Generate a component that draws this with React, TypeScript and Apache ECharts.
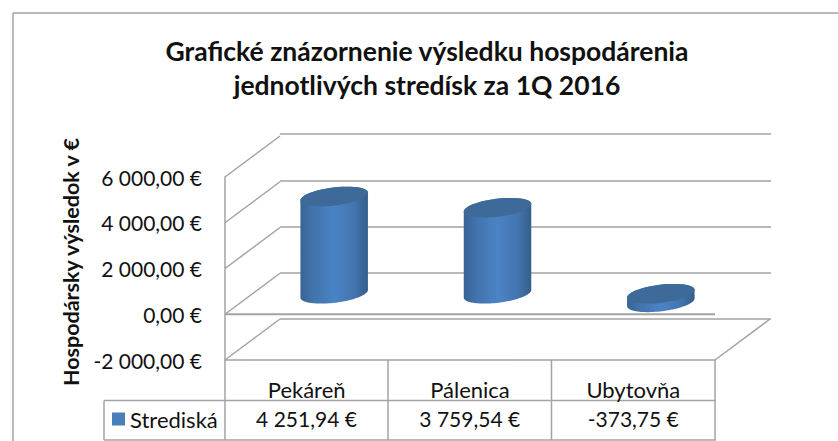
import React, { useEffect, useRef } from "react";
import * as echarts from "echarts";

const categories = ["Pekáreň", "Pálenica", "Ubytovňa"];
const seriesName = "Strediská";
const values = [4251.94, 3759.54, -373.75];
const valueLabels = ["4 251,94 €", "3 759,54 €", "-373,75 €"];
const yTicks = [-2000, 0, 2000, 4000, 6000];
const yTickLabels: Record<string, string> = {
  "-2000": "-2 000,00 €",
  "0": "0,00 €",
  "2000": "2 000,00 €",
  "4000": "4 000,00 €",
  "6000": "6 000,00 €",
};
const titleLines = ["Grafické znázornenie výsledku hospodárenia", "jednotlivých stredísk za 1Q 2016"];
const yTitle = "Hospodársky výsledok v €";

const FONT = "Lato";
const GREY = "#a3a3a3";
const DEPTH_X = 55;
const DEPTH_Y = -41;
const RX = 34;
const RY = 9;
const TILT = (-7 * Math.PI) / 180;

function ellipsePoints(cx: number, cy: number, from: number, to: number) {
  const pts: number[][] = [];
  const n = 48;
  for (let i = 0; i <= n; i++) {
    const t = from + ((to - from) * i) / n;
    const ex = RX * Math.cos(t);
    const ey = RY * Math.sin(t);
    pts.push([cx + ex * Math.cos(TILT) - ey * Math.sin(TILT), cy + ex * Math.sin(TILT) + ey * Math.cos(TILT)]);
  }
  return pts;
}

const greyLine = { stroke: GREY, lineWidth: 1.5 };

export default function App() {
  const ref = useRef<HTMLDivElement>(null);
  useEffect(() => {
    const chart = echarts.init(ref.current!, undefined, { renderer: "svg" });
    const line = (x1: number, y1: number, x2: number, y2: number) => ({
      type: "line",
      silent: true,
      shape: { x1, y1, x2, y2 },
      style: { stroke: GREY, lineWidth: 1.5 },
    });
    const cols = [225, 388, 551.5, 715];
    chart.setOption({
      animation: false,
      backgroundColor: "#fff",
      title: titleLines.map((text, i) => ({
        text,
        left: 422,
        top: 32 + i * 34,
        textAlign: "center",
        textStyle: { fontFamily: FONT, fontSize: 26.5, fontWeight: "bold", color: "#111" },
      })),
      legend: {
        data: [seriesName],
        left: 107,
        top: 403,
        itemWidth: 13,
        itemHeight: 13,
        itemGap: 5,
        icon: "rect",
        selectedMode: false,
        textStyle: { fontFamily: FONT, fontSize: 22, color: "#111", padding: [0, 0, 3, 0] },
      },
      grid: [
        { left: 225, top: 177, width: 490, height: 183 },
        { left: 280, top: 134, width: 491, height: 185 },
      ],
      xAxis: [
        {
          type: "category",
          gridIndex: 0,
          data: categories,
          position: "bottom",
          axisLine: { onZero: false, lineStyle: { color: GREY, width: 1.5 } },
          axisTick: { show: false },
          axisLabel: { margin: 18, fontFamily: FONT, fontSize: 22, color: "#111" },
        },
        { type: "category", gridIndex: 1, data: categories, show: false },
      ],
      yAxis: [
        {
          type: "value",
          gridIndex: 0,
          min: -2000,
          max: 6000,
          interval: 2000,
          splitLine: { show: false },
          axisTick: { show: false },
          axisLine: { show: true, lineStyle: { color: GREY, width: 1.5 } },
          axisLabel: {
            margin: 23,
            fontFamily: FONT,
            fontSize: 21,
            color: "#111",
            formatter: (v: number) => yTickLabels[String(v)],
          },
        },
        {
          type: "value",
          gridIndex: 1,
          min: -2000,
          max: 6000,
          interval: 2000,
          axisLine: { show: false },
          axisTick: { show: false },
          axisLabel: { show: false },
          splitLine: { show: true, lineStyle: { color: GREY, width: 1.5 } },
        },
      ],
      series: [
        {
          type: "custom",
          name: "walls",
          xAxisIndex: 0,
          yAxisIndex: 0,
          silent: true,
          data: yTicks.map((v) => [0, v]),
          z: 1,
          renderItem: (params: any, api: any) => {
            const v = api.value(1);
            const cs = params.coordSys;
            const y = api.coord([0, v])[1];
            const children: any[] = [
              { type: "line", shape: { x1: cs.x, y1: y, x2: cs.x + DEPTH_X, y2: y + DEPTH_Y }, style: greyLine },
            ];
            if (v === 0) {
              children.push({ type: "line", shape: { x1: cs.x, y1: y, x2: cs.x + cs.width, y2: y }, style: { stroke: GREY, lineWidth: 2 } });
            }
            if (v === -2000) {
              children.push({
                type: "line",
                shape: { x1: cs.x + cs.width, y1: y, x2: cs.x + cs.width + DEPTH_X, y2: y + DEPTH_Y },
                style: greyLine,
              });
            }
            return { type: "group", children };
          },
        },
        {
          type: "custom",
          name: seriesName,
          xAxisIndex: 0,
          yAxisIndex: 0,
          silent: true,
          itemStyle: { color: "#4a7ebb" },
          data: values.map((v, i) => [i, v]),
          z: 5,
          renderItem: (_p: any, api: any) => {
            const cat = api.value(0);
            const v = api.value(1);
            const zero = api.coord([cat, 0]);
            const end = api.coord([cat, v]);
            const cx = zero[0] + DEPTH_X / 2;
            const yz = zero[1] + DEPTH_Y / 2;
            const ye = end[1] + DEPTH_Y / 2;
            const topY = Math.min(yz, ye);
            const botY = Math.max(yz, ye);
            const body = [...ellipsePoints(cx, botY, 0, Math.PI), ...ellipsePoints(cx, topY, Math.PI, 2 * Math.PI)];
            return {
              type: "group",
              children: [
                {
                  type: "polygon",
                  shape: { points: body },
                  style: {
                    fill: {
                      type: "linear",
                      x: 0,
                      y: 0,
                      x2: 1,
                      y2: 0,
                      colorStops: [
                        { offset: 0, color: "#386497" },
                        { offset: 0.18, color: "#4273ab" },
                        { offset: 0.5, color: "#4a84c6" },
                        { offset: 0.8, color: "#4375ae" },
                        { offset: 1, color: "#345d8b" },
                      ],
                    },
                  },
                },
                {
                  type: "polygon",
                  shape: { points: ellipsePoints(cx, topY, 0, 2 * Math.PI) },
                  style: { fill: "#3d6a98" },
                },
              ],
            };
          },
        },
      ],
      graphic: [
        line(13, 13, 838, 13),
        line(13, 13, 13, 441),
        ...cols.map((x) => line(x, 360, x, 440)),
        line(104, 400.5, 716, 400.5),
        line(104, 440, 716, 440),
        line(104, 400.5, 104, 440),
        {
          type: "text",
          x: 71,
          y: 262,
          rotation: Math.PI / 2,
          silent: true,
          style: {
            text: yTitle,
            fontFamily: FONT,
            fontSize: 21.5,
            fontWeight: "bold",
            fill: "#111",
            align: "center",
            verticalAlign: "middle",
          },
        },
        ...valueLabels.map((text, i) => ({
          type: "text",
          x: (cols[i] + cols[i + 1]) / 2,
          y: 418,
          silent: true,
          style: { text, fontFamily: FONT, fontSize: 21, fill: "#111", align: "center", verticalAlign: "middle" },
        })),
      ],
    });
    return () => chart.dispose();
  }, []);
  return <div ref={ref} style={{ position: "absolute", left: 0, top: 0, width: 838, height: 441 }} />;
}
